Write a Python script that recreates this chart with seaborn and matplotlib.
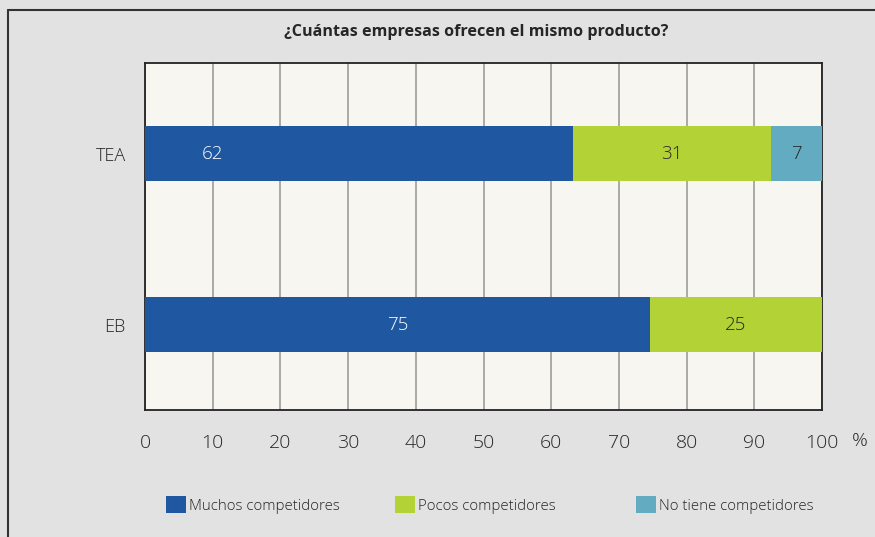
import matplotlib
matplotlib.use("Agg")
import matplotlib.pyplot as plt
from matplotlib.lines import Line2D
from matplotlib.patches import Patch
import seaborn as sns
import pandas as pd

# data
groups = ["TEA", "EB"]
series = ["Muchos competidores", "Pocos competidores", "No tiene competidores"]
muchos = [63.2, 74.6]
pocos = [29.3, 25.4]
no_tiene = [7.5, 0.0]
labels_muchos = ["62", "75"]
labels_pocos = ["31", "25"]
labels_no_tiene = ["7", ""]
xticks = [0, 10, 20, 30, 40, 50, 60, 70, 80, 90, 100]
title = "¿Cuántas empresas ofrecen el mismo producto?"

colors = ["#1f58a0", "#b2d235", "#62abc0"]
fig_bg = "#e2e2e2"
plot_bg = "#f8f6f0"
txt = "#262626"

sns.set_theme(style="white")
plt.rcParams["font.family"] = ["Open Sans", "DejaVu Sans"]

df = pd.DataFrame({"grupo": groups, "muchos": muchos, "pocos": pocos, "no_tiene": no_tiene})
df["c1"] = df["muchos"]
df["c2"] = df["muchos"] + df["pocos"]
df["c3"] = df["c2"] + df["no_tiene"]

fig = plt.figure(figsize=(8.75, 5.37), dpi=100, facecolor=fig_bg)
ax = fig.add_axes([145 / 875, 1 - 410 / 537, (822 - 145) / 875, (410 - 63) / 537])
ax.set_facecolor(plot_bg)

# stacked bars: draw cumulative totals from back to front
for col, c in zip(["c3", "c2", "c1"], colors[::-1]):
    sns.barplot(data=df, y="grupo", x=col, orient="h", color=c, width=0.32,
                saturation=1, ax=ax, zorder=3, linewidth=0)

ax.set_xlim(0, 100)
ax.set_ylim(1.5, -0.53)
ax.set_xlabel("")
ax.set_ylabel("")

# vertical grid
ax.set_xticks(xticks)
ax.set_xticklabels([str(t) for t in xticks], fontsize=14, color=txt, fontweight="light")
ax.tick_params(axis="x", which="major", length=0, pad=17)
ax.set_xticks([0, 100], minor=True)
ax.tick_params(axis="x", which="minor", length=8, width=1.2, color="#999999", direction="out")
ax.grid(axis="x", color="#9c9c9c", linewidth=1.2, zorder=1)
ax.set_axisbelow(True)

# categories: labels without ticks, separators with ticks
ax.set_yticks([0, 1])
ax.set_yticklabels(groups, fontsize=13, color=txt, fontweight="light")
ax.tick_params(axis="y", which="major", length=0, pad=14)
ax.set_yticks([-0.53, 0.5, 1.5], minor=True)
ax.tick_params(axis="y", which="minor", length=7, width=1.3, color="#222222", direction="out")

for s in ax.spines.values():
    s.set_visible(True)
    s.set_color("#222222")
    s.set_linewidth(1.3)

# value labels
for i in range(len(groups)):
    segs = [(0, muchos[i], labels_muchos[i], "white"),
            (muchos[i], pocos[i], labels_pocos[i], txt),
            (muchos[i] + pocos[i], no_tiene[i], labels_no_tiene[i], txt)]
    for j, (start, w, lab, tc) in enumerate(segs):
        if not lab:
            continue
        xpos = start + w / 2
        if i == 0 and j == 0:
            xpos = 10
        ax.text(xpos, i, lab, ha="center", va="center", fontsize=13.5, color=tc,
                fontweight="light", zorder=5)

ax.text((860 - 145) / 677, -31 / 347, "%", transform=ax.transAxes, ha="center", va="center",
        fontsize=14, color=txt, fontweight="light")

fig.text(476 / 875, 1 - 32 / 537, title, ha="center", va="center", fontsize=11.6,
         fontweight="bold", color=txt)

# legend entries placed individually (uneven spacing in the original)
leg_x = [166, 395, 636]
for s, c, x in zip(series, colors, leg_x):
    h = Patch(facecolor=c, edgecolor="none", label=s)
    leg = fig.legend(handles=[h], loc="center left", bbox_to_anchor=(x / 875, 1 - 505 / 537),
                     frameon=False, handlelength=1.3, handleheight=1.3, handletextpad=0.25,
                     borderpad=0, borderaxespad=0, labelcolor=txt,
                     prop={"size": 10.8, "weight": "light"})

# outer frame (left and top edges visible)
fig.add_artist(Line2D([8 / 875, 8 / 875], [0, 1 - 10 / 537], transform=fig.transFigure,
                      color="#333333", linewidth=1.5))
fig.add_artist(Line2D([8 / 875, 1], [1 - 10 / 537, 1 - 10 / 537], transform=fig.transFigure,
                      color="#333333", linewidth=1.5))

fig.savefig("out.png", dpi=100, facecolor=fig_bg)
